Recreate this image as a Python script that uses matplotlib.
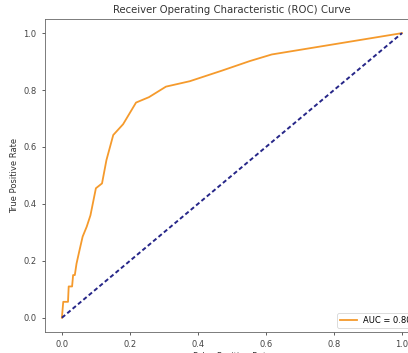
import matplotlib
matplotlib.use('Agg')
from matplotlib import pyplot as plt
import numpy as np

# pontos da curva ROC
fpr = [0.0, 0.004, 0.018, 0.020, 0.030, 0.033, 0.038, 0.043, 0.051, 0.061, 0.073, 0.084,
       0.100, 0.118, 0.131, 0.151, 0.180, 0.218, 0.256, 0.306, 0.376, 0.470, 0.553, 0.617, 1.0]
tpr = [0.0, 0.056, 0.056, 0.110, 0.110, 0.150, 0.150, 0.190, 0.233, 0.285, 0.320, 0.360,
       0.455, 0.472, 0.554, 0.642, 0.680, 0.756, 0.775, 0.812, 0.831, 0.868, 0.902, 0.925, 1.0]
auc_label = 'AUC = 0.80'
diag = [0, 1]

fig = plt.figure(figsize=(4.08, 3.53), dpi=100)
ax = fig.add_axes([0.110, 0.0595, 0.917, 0.887])

ax.plot(fpr, tpr, color='#f59a2c', lw=1.3, label=auc_label)
ax.plot(diag, diag, color='#262688', lw=1.4, linestyle=(0, (2.2, 1.4)))

ax.set_xticks([0.0, 0.2, 0.4, 0.6, 0.8, 1.0])
ax.set_yticks([0.0, 0.2, 0.4, 0.6, 0.8, 1.0])
ax.tick_params(labelsize=6, length=2.5, width=0.6, colors='#444444')
for s in ax.spines.values():
    s.set_linewidth(0.6)
    s.set_color('#666666')

ax.set_xlabel('False Positive Rate', fontsize=6, labelpad=2, color='#333333')
ax.set_ylabel('True Positive Rate', fontsize=6, labelpad=3, color='#333333')
ax.set_title('Receiver Operating Characteristic (ROC) Curve', fontsize=7.3, pad=4, color='#333333')

leg = ax.legend(loc='lower right', fontsize=6, frameon=True, borderpad=0.35)
leg.get_frame().set_linewidth(0.6)

fig.savefig('out.png', dpi=100)
